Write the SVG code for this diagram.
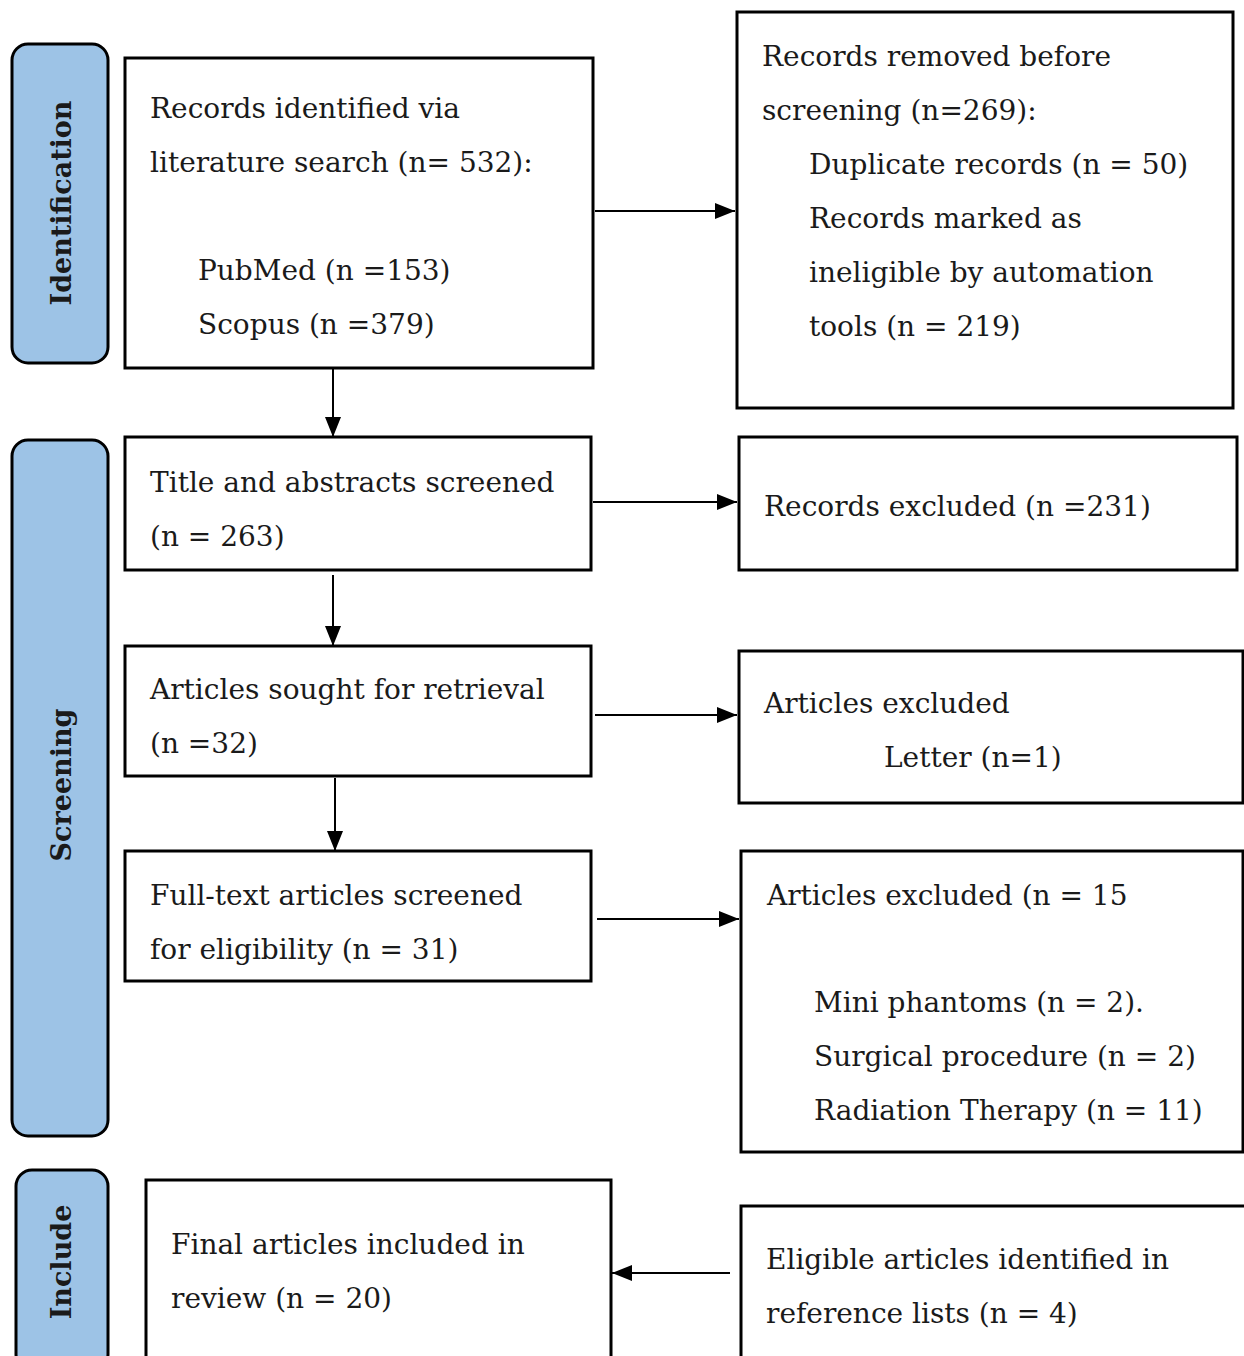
<svg xmlns="http://www.w3.org/2000/svg" width="1244" height="1356" viewBox="0 0 1244 1356">
<defs>
<marker id="ah" markerWidth="20" markerHeight="16" refX="20" refY="8" orient="auto" markerUnits="userSpaceOnUse" viewBox="0 0 20 16">
<path d="M0,0 L20,8 L0,16 Z" fill="#000"/>
</marker>
<style>
.box{fill:#fff;stroke:#000;stroke-width:3}
.side{fill:#9dc3e6;stroke:#000;stroke-width:3}
.t{font-family:"DejaVu Serif","Liberation Serif",serif;font-size:28px;fill:#1a1a1a}
.s{font-family:"DejaVu Serif","Liberation Serif",serif;font-size:27px;font-weight:bold;fill:#1a1a1a}
.c{stroke:#000;stroke-width:2;fill:none}
</style>
</defs>
<rect width="1244" height="1356" fill="#fff"/>
<g id="side-identification">
<rect class="side" x="12" y="44" width="96" height="319" rx="16"/>
<text class="s" transform="translate(71,203) rotate(-90)" text-anchor="middle">Identification</text>
</g>
<g id="side-screening">
<rect class="side" x="12" y="440" width="96" height="696" rx="16"/>
<text class="s" transform="translate(71,785) rotate(-90)" text-anchor="middle">Screening</text>
</g>
<g id="side-include">
<rect class="side" x="16" y="1170" width="92" height="200" rx="16"/>
<text class="s" transform="translate(71,1262) rotate(-90)" text-anchor="middle">Include</text>
</g>
<g id="n-identified">
<rect class="box" x="125" y="58" width="468" height="310"/>
<text class="t" x="150" y="118">Records identified via</text>
<text class="t" x="150" y="172">literature search (n= 532):</text>
<text class="t" x="198" y="280">PubMed (n =153)</text>
<text class="t" x="198" y="334">Scopus (n =379)</text>
</g>
<g id="n-removed">
<rect class="box" x="737" y="12" width="496" height="396"/>
<text class="t" x="762" y="66">Records removed before</text>
<text class="t" x="762" y="120">screening (n=269):</text>
<text class="t" x="809" y="174">Duplicate records (n = 50)</text>
<text class="t" x="809" y="228">Records marked as</text>
<text class="t" x="809" y="282">ineligible by automation</text>
<text class="t" x="809" y="336">tools (n = 219)</text>
</g>
<g id="n-screened">
<rect class="box" x="125" y="437" width="466" height="133"/>
<text class="t" x="150" y="492">Title and abstracts screened</text>
<text class="t" x="150" y="546">(n = 263)</text>
</g>
<g id="n-excluded1">
<rect class="box" x="739" y="437" width="498" height="133"/>
<text class="t" x="764" y="516">Records excluded (n =231)</text>
</g>
<g id="n-sought">
<rect class="box" x="125" y="646" width="466" height="130"/>
<text class="t" x="150" y="699">Articles sought for retrieval</text>
<text class="t" x="150" y="753">(n =32)</text>
</g>
<g id="n-excluded2">
<rect class="box" x="739" y="651" width="504" height="152"/>
<text class="t" x="764" y="713">Articles excluded</text>
<text class="t" x="884" y="767">Letter (n=1)</text>
</g>
<g id="n-fulltext">
<rect class="box" x="125" y="851" width="466" height="130"/>
<text class="t" x="150" y="905">Full-text articles screened</text>
<text class="t" x="150" y="959">for eligibility (n = 31)</text>
</g>
<g id="n-excluded3">
<rect class="box" x="741" y="851" width="502" height="301"/>
<text class="t" x="767" y="905">Articles excluded (n = 15</text>
<text class="t" x="814" y="1012">Mini phantoms (n = 2).</text>
<text class="t" x="814" y="1066">Surgical procedure (n = 2)</text>
<text class="t" x="814" y="1120">Radiation Therapy (n = 11)</text>
</g>
<g id="n-final">
<rect class="box" x="146" y="1180" width="465" height="190"/>
<text class="t" x="171" y="1254">Final articles included in</text>
<text class="t" x="171" y="1308">review (n = 20)</text>
</g>
<g id="n-eligible">
<rect class="box" x="741" y="1206" width="510" height="164"/>
<text class="t" x="766" y="1269">Eligible articles identified in</text>
<text class="t" x="766" y="1323">reference lists (n = 4)</text>
</g>
<g id="connectors">
<line class="c" x1="595" y1="211" x2="735" y2="211" marker-end="url(#ah)"/>
<line class="c" x1="333" y1="368" x2="333" y2="437" marker-end="url(#ah)"/>
<line class="c" x1="593" y1="502" x2="737" y2="502" marker-end="url(#ah)"/>
<line class="c" x1="333" y1="575" x2="333" y2="646" marker-end="url(#ah)"/>
<line class="c" x1="595" y1="715" x2="737" y2="715" marker-end="url(#ah)"/>
<line class="c" x1="335" y1="778" x2="335" y2="851" marker-end="url(#ah)"/>
<line class="c" x1="597" y1="919" x2="739" y2="919" marker-end="url(#ah)"/>
<line class="c" x1="730" y1="1273" x2="612" y2="1273" marker-end="url(#ah)"/>
</g>
</svg>
